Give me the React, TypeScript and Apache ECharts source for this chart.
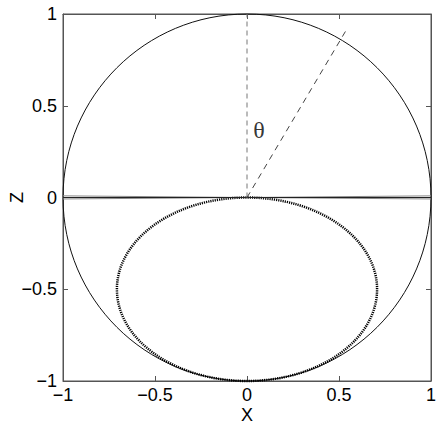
import React, { useEffect, useRef } from "react";
import * as echarts from "echarts";

// Axis ticks
const xTicks = [-1, -0.5, 0, 0.5, 1];
const zTicks = [-1, -0.5, 0, 0.5, 1];

// Unit circle: [centerX, centerZ, radiusX, radiusZ]
const circleShape = [[0, 0, 1, 1]];
// Dotted ellipse: [centerX, centerZ, semiAxisX, semiAxisZ]
const ellipseShape = [[0, -0.5, 0.707, 0.5]];

// Dashed reference lines
const verticalDash = [[0, 0], [0, 1]];
const thetaDash = [[0, 0], [0.535, 0.905]];

// Near-horizontal lines through origin
const upperFlat = [[-1, 0.009], [0, 0], [1, 0.009]];
const lowerFlat = [[-1, -0.008], [0, 0], [1, -0.008]];
const zeroLine = [[-1, 0], [1, 0]];

// Theta label position
const thetaLabel = [[0.065, 0.37]];

const FONT = "Liberation Sans";
const fmt = (v: number) => String(v).replace("-", "\u2212");

export default function App() {
  const ref = useRef<HTMLDivElement>(null);
  useEffect(() => {
    const chart = echarts.init(ref.current!, null, { renderer: "svg" });
    const ellipseRender = (stroke: string, lw: number, dash: number[] | null) =>
      (params: any, api: any) => {
        const c = api.coord([api.value(0), api.value(1)]);
        const s = api.size([api.value(2), api.value(3)]);
        return {
          type: "ellipse",
          shape: { cx: c[0], cy: c[1], rx: s[0], ry: s[1] },
          style: { fill: "none", stroke, lineWidth: lw, lineDash: dash || undefined },
        };
      };
    const axisCommon = {
      type: "value" as const,
      min: -1,
      max: 1,
      interval: 0.5,
      splitLine: { show: false },
    };
    const line = { show: true, onZero: false, lineStyle: { color: "#555" } };
    const tick = { show: true, inside: true, length: 5, lineStyle: { color: "#555" } };
    chart.setOption({
      animation: false,
      grid: {
        left: 63,
        top: 14,
        width: 368,
        height: 367,
        containLabel: false,
        outerBoundsMode: "none",
        show: true,
        borderColor: "#555",
        borderWidth: 1,
        backgroundColor: "#fff",
      },
      xAxis: [
        {
          ...axisCommon,
          position: "bottom",
          name: "X",
          nameLocation: "middle",
          nameGap: 27,
          nameMoveOverlap: false,
          nameTextStyle: { fontFamily: FONT, fontSize: 18, lineHeight: 14, color: "#000" },
          axisLine: line,
          axisTick: tick,
          axisLabel: {
            formatter: fmt,
            fontFamily: FONT,
            fontSize: 18,
            lineHeight: 14,
            color: "#000",
            margin: 7,
          },
        },
        {
          ...axisCommon,
          position: "top",
          axisLine: line,
          axisTick: tick,
          axisLabel: { show: false },
        },
      ],
      yAxis: [
        {
          ...axisCommon,
          position: "left",
          name: "Z",
          nameLocation: "middle",
          nameGap: 37,
          nameMoveOverlap: false,
          nameRotate: 90,
          nameTextStyle: { fontFamily: FONT, fontSize: 18, color: "#000" },
          axisLine: line,
          axisTick: tick,
          axisLabel: {
            formatter: fmt,
            fontFamily: FONT,
            fontSize: 18,
            color: "#000",
            margin: 6,
          },
        },
        {
          ...axisCommon,
          position: "right",
          axisLine: line,
          axisTick: tick,
          axisLabel: { show: false },
        },
      ],
      series: [
        {
          type: "line",
          data: upperFlat,
          symbol: "none",
          lineStyle: { color: "#888", width: 1 },
        },
        {
          type: "line",
          data: lowerFlat,
          symbol: "none",
          lineStyle: { color: "#888", width: 1 },
        },
        {
          type: "line",
          data: zeroLine,
          symbol: "none",
          lineStyle: { color: "#222", width: 1 },
        },
        {
          type: "custom",
          data: circleShape,
          clip: false,
          renderItem: ellipseRender("#111", 1, null),
        },
        {
          type: "custom",
          data: ellipseShape,
          clip: false,
          renderItem: ellipseRender("#000", 2.5, [1.2, 1]),
        },
        {
          type: "line",
          data: verticalDash,
          symbol: "none",
          lineStyle: { color: "#777", width: 1, type: [5, 4] },
        },
        {
          type: "line",
          data: thetaDash,
          symbol: "none",
          lineStyle: { color: "#444", width: 1, type: [6, 5] },
        },
        {
          type: "scatter",
          data: thetaLabel,
          symbolSize: 0,
          label: {
            show: true,
            position: "inside",
            formatter: "\u03b8",
            fontFamily: "Liberation Serif",
            fontSize: 24,
            color: "#000",
          },
        },
      ],
    });
    return () => chart.dispose();
  }, []);
  return <div ref={ref} style={{ width: 440, height: 425, position: "absolute", left: 0, top: 0 }} />;
}
